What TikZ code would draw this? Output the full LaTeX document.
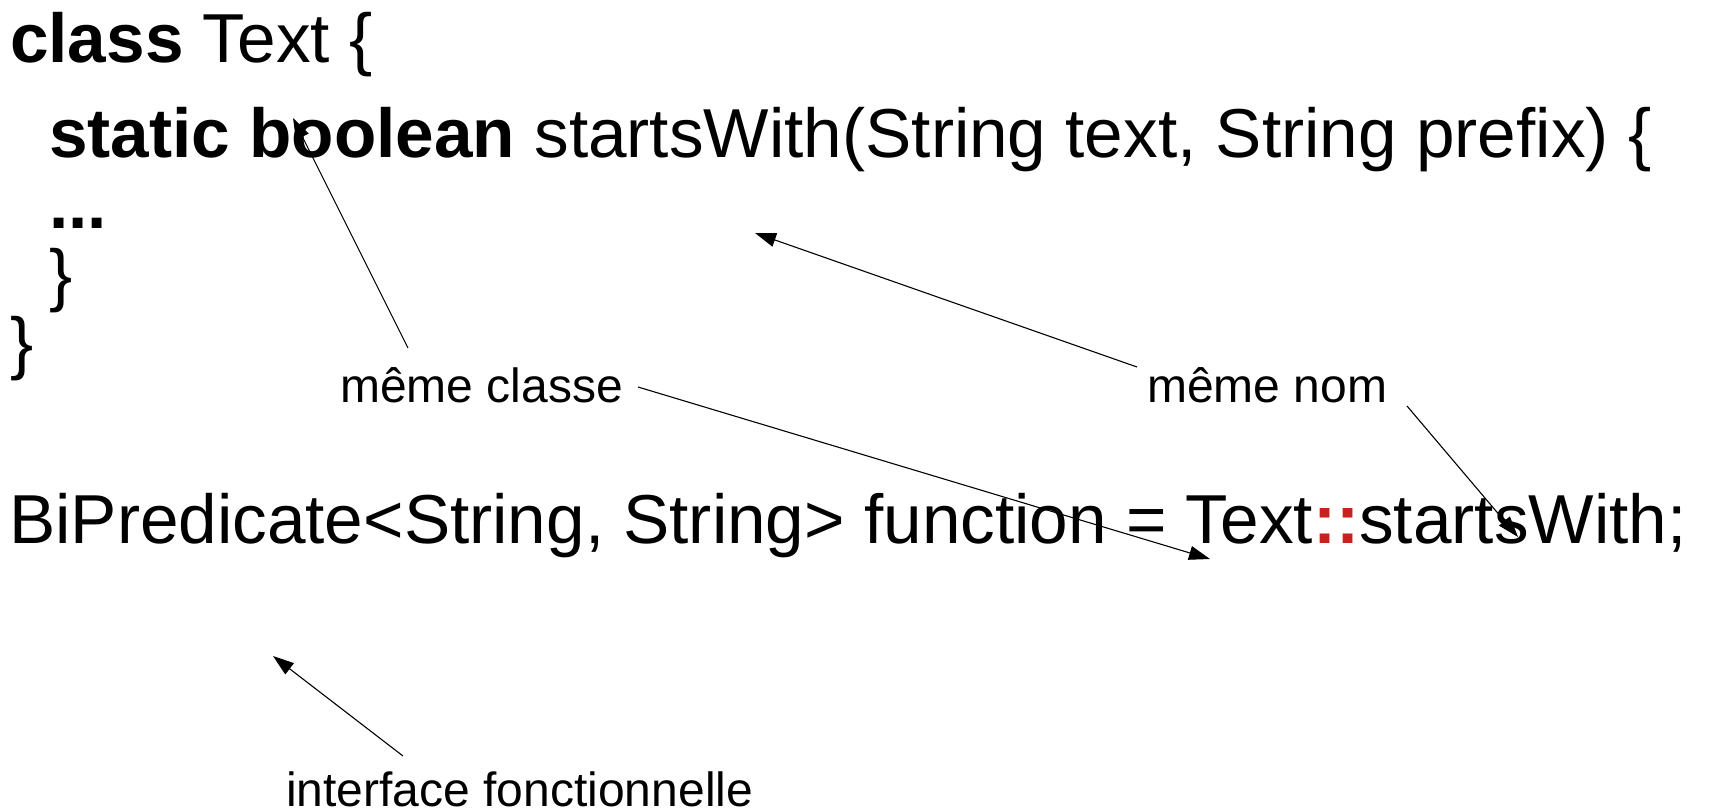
\documentclass[tikz,border=0pt]{standalone}
\usepackage{fontspec}
\setmainfont{Liberation Sans}
\usetikzlibrary{arrows.meta}
\definecolor{darkred}{HTML}{C9211E}

\begin{document}
\begin{tikzpicture}[x=1pt, y=-1pt,
    code/.style={anchor=base west, inner sep=0pt, font=\fontsize{69.3}{80}\selectfont},
    note/.style={anchor=base west, inner sep=0pt, font=\fontsize{48}{56}\selectfont},
    pointer/.style={line width=1.1pt, -{Triangle[length=21pt,width=14pt]}}]
    \useasboundingbox (0,0) rectangle (1709,811);

    % The class with its static method
    \node[code] (classline) at (10,62) {\textbf{class} Text \{};
    \node[code] (methodline) at (49,157) {\textbf{static boolean} startsWith(String text, String prefix) \{};
    \node[code] (dotsline) at (49,228) {\textbf{...}};
    \node[code] (methodend) at (49,298) {\}};
    \node[code] (classend) at (10,366) {\}};

    % The method reference
    \node[code] (refline) at (9,543) {BiPredicate<String, String> function = Text\textcolor{darkred}{\textbf{::}}startsWith;};

    % Labels
    \node[note] (sameclass) at (340,402) {même classe};
    \node[note] (samename) at (1147,402) {même nom};
    \node[note] (funciface) at (286,806) {interface fonctionnelle};

    % Where the arrows start and end
    \coordinate (classup) at (408,348);
    \coordinate (classright) at (638,387);
    \coordinate (nameleft) at (1137,367);
    \coordinate (nameright) at (1407,406);
    \coordinate (ifaceup) at (403,756);
    \coordinate (tipbool) at (293,118);
    \coordinate (tiptext) at (1210,559);
    \coordinate (tipname) at (755,233);
    \coordinate (tipref) at (1518,537);
    \coordinate (tipiface) at (273,656);

    % Draw the arrows
    \draw[pointer] (classup) -- (tipbool);
    \draw[pointer] (classright) -- (tiptext);
    \draw[pointer] (nameleft) -- (tipname);
    \draw[pointer] (nameright) -- (tipref);
    \draw[pointer] (ifaceup) -- (tipiface);
\end{tikzpicture}
\end{document}
